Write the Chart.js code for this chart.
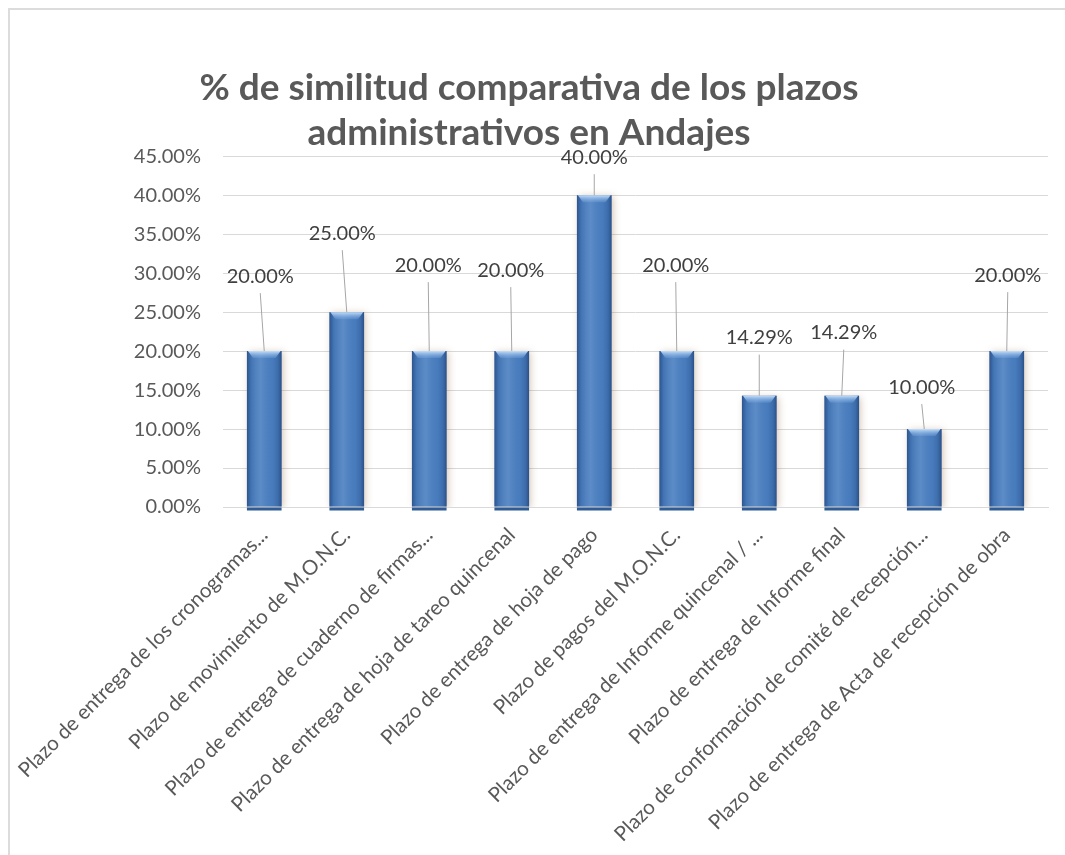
<!DOCTYPE html>
<html>
<head>
<meta charset="utf-8">
<script src="https://cdn.jsdelivr.net/npm/chart.js@4.4.0/dist/chart.umd.min.js"></script>
<style>
    body { margin: 0; background: #fff; }
    #frame {
        position: absolute; left: 8px; top: 8px; right: 0; bottom: 0;
        border-top: 2px solid #dcdcdc; border-left: 2px solid #dcdcdc;
    }
    #box { position: relative; width: 1046px; height: 845px; }
</style>
</head>
<body>
<div id="frame"><div id="box"><canvas id="plazosChart"></canvas></div></div>
<script>
const categories = [
    "Plazo de entrega de los cronogramas...",
    "Plazo de movimiento de M.O.N.C.",
    "Plazo de entrega de cuaderno de firmas...",
    "Plazo de entrega de hoja de tareo quincenal",
    "Plazo de entrega de hoja de pago",
    "Plazo de pagos del M.O.N.C.",
    "Plazo de entrega de Informe quincenal / ...",
    "Plazo de entrega de Informe final",
    "Plazo de conformación de comité de recepción...",
    "Plazo de entrega de Acta de recepción de obra"
];

const similitud = [0.20, 0.25, 0.20, 0.20, 0.40, 0.20, 0.1429, 0.1429, 0.10, 0.20];

const yTicks = [0, 0.05, 0.10, 0.15, 0.20, 0.25, 0.30, 0.35, 0.40, 0.45];

// where Excel dragged each data label (px from bar top)
const labelShift = [
    [-4, -75], [-4.5, -79], [-1, -86], [-1, -81], [0, -38],
    [-1, -86], [0, -58], [2, -63], [-2.5, -42], [1, -76]
];

const pct = v => (v * 100).toFixed(2) + "%";

const barLook = {
    id: "barLook",
    beforeDatasetsDraw(chart) {
        const ctx = chart.ctx;
        ctx.save();
        ctx.shadowColor = "rgba(140, 95, 50, 0.35)";
        ctx.shadowBlur = 7;
        ctx.shadowOffsetX = 2;
        ctx.shadowOffsetY = 1;
    },
    afterDatasetsDraw(chart) {
        const ctx = chart.ctx;
        ctx.restore();
        const bars = chart.getDatasetMeta(0).data;
        bars.forEach(bar => {
            const left = bar.x - bar.width / 2;
            const w = bar.width;
            const h = bar.base - bar.y;

            // round body shading
            const g = ctx.createLinearGradient(left, 0, left + w, 0);
            g.addColorStop(0, "rgba(20, 50, 100, 0.55)");
            g.addColorStop(0.12, "rgba(20, 50, 100, 0.15)");
            g.addColorStop(0.4, "rgba(255, 255, 255, 0.10)");
            g.addColorStop(0.75, "rgba(20, 50, 100, 0.05)");
            g.addColorStop(0.9, "rgba(20, 50, 100, 0.25)");
            g.addColorStop(1, "rgba(20, 50, 100, 0.6)");
            ctx.fillStyle = g;
            ctx.fillRect(left, bar.y, w, h);

            // bevelled top
            const cap = ctx.createLinearGradient(0, bar.y, 0, bar.y + 8);
            cap.addColorStop(0, "#c4defa");
            cap.addColorStop(1, "rgba(110, 160, 220, 0.2)");
            ctx.fillStyle = cap;
            ctx.beginPath();
            ctx.moveTo(left + 1, bar.y);
            ctx.lineTo(left + w - 1, bar.y);
            ctx.lineTo(left + w - 6, bar.y + 7);
            ctx.lineTo(left + 6, bar.y + 7);
            ctx.closePath();
            ctx.fill();

            // dark foot below the axis
            ctx.fillStyle = "#2f5c94";
            ctx.fillRect(left, bar.base + 1, w, 3);
        });

        // data labels with leader lines
        ctx.save();
        ctx.font = "20px Lato";
        ctx.textAlign = "center";
        ctx.textBaseline = "middle";
        bars.forEach((bar, i) => {
            const lx = bar.x + labelShift[i][0];
            const ly = bar.y + labelShift[i][1];
            ctx.strokeStyle = "#a6a6a6";
            ctx.lineWidth = 1;
            ctx.beginPath();
            ctx.moveTo(lx, ly + 17);
            ctx.lineTo(bar.x, bar.y);
            ctx.stroke();
            ctx.fillStyle = "#404040";
            ctx.fillText(pct(similitud[i]), lx, ly);
        });
        ctx.restore();
    }
};

window.onload = function () {

    const ctx = document.getElementById("plazosChart");

    new Chart(ctx, {
        type: "bar",
        data: {
            labels: categories,
            datasets: [
                {
                    label: "% de similitud",
                    data: similitud,
                    backgroundColor: "#4a7fc1",
                    categoryPercentage: 1,
                    barPercentage: 0.42
                }
            ]
        },
        options: {
            responsive: true,
            maintainAspectRatio: false,
            animation: false,
            layout: { padding: { left: 0, right: 8, top: 0, bottom: 0 } },
            plugins: {
                legend: { display: false },
                tooltip: { enabled: false },
                title: {
                    display: true,
                    text: [
                        "% de similitud comparativa de los plazos",
                        "administrativos en Andajes"
                    ],
                    color: "#595959",
                    font: { family: "Lato", size: 37, weight: "bold", lineHeight: 1.22 },
                    padding: { top: 55, bottom: 1 }
                }
            },
            scales: {
                y: {
                    min: 0,
                    max: 0.45,
                    afterBuildTicks: scale => {
                        scale.ticks = yTicks.map(v => ({ value: v }));
                    },
                    afterFit: scale => { scale.width = 213; },
                    ticks: {
                        padding: 22,
                        color: "#595959",
                        font: { family: "Lato", size: 20 },
                        callback: v => pct(v)
                    },
                    grid: { color: "#d9d9d9", drawTicks: false },
                    border: { display: false }
                },
                x: {
                    afterFit: scale => {
                        scale.height = 348;
                        scale.paddingLeft = 0;
                        scale.paddingRight = 0;
                    },
                    ticks: {
                        autoSkip: false,
                        maxRotation: 45,
                        minRotation: 45,
                        padding: 8,
                        color: "#595959",
                        font: { family: "Lato", size: 20.5 }
                    },
                    grid: { display: false },
                    border: { color: "#d9d9d9", width: 1 }
                }
            }
        },
        plugins: [barLook]
    });
};
</script>
</body>
</html>
